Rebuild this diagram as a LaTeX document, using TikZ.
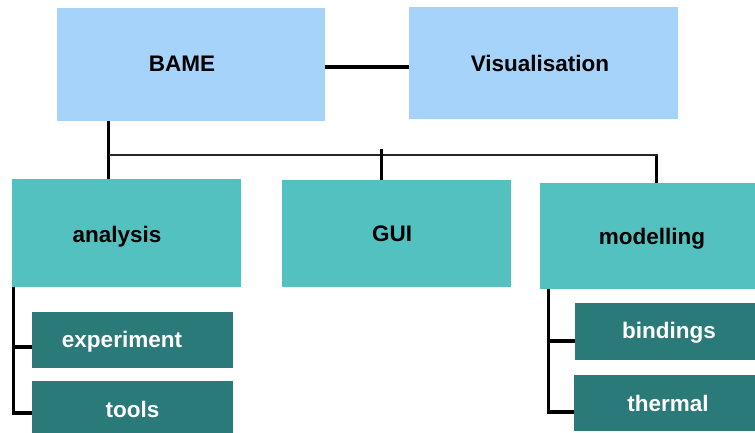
\documentclass[tikz,border=0pt]{standalone}
\usepackage{fontspec}
\setmainfont{Liberation Sans}
\usetikzlibrary{calc}
\definecolor{lightblue}{HTML}{A6D3FA}
\definecolor{tealmid}{HTML}{54C1C1}
\definecolor{tealdark}{HTML}{2A7A79}
\newcommand{\shiftedtext}[3]{\hspace*{#1pt}\hspace*{#1pt}\raisebox{#2pt}[\height][\depth]{#3}}
\tikzset{
  basebox/.style={rectangle, inner sep=0pt, font=\fontsize{22.5}{26}\selectfont\bfseries},
  topbox/.style={basebox, fill=lightblue, text=black},
  midbox/.style={basebox, fill=tealmid, text=black},
  subbox/.style={basebox, fill=tealdark, text=white},
  conn/.style={draw=black, line width=3.2pt},
  busline/.style={draw=black!85, line width=2.4pt}
}
\begin{document}
\begin{tikzpicture}[x=1pt,y=-1pt]
\useasboundingbox (0,0) rectangle (755,432);
\begin{scope}
\clip (0,0) rectangle (755,432);
\node[topbox, minimum width=268pt, minimum height=113pt] (bame) at (191,64.5) {\shiftedtext{-9}{1}{BAME}};
\node[topbox, minimum width=269pt, minimum height=112pt] (vis) at (543.5,63) {\shiftedtext{-3.5}{0}{Visualisation}};
\node[midbox, minimum width=229pt, minimum height=108pt] (analysis) at (126.5,233) {\shiftedtext{-9.5}{-4}{analysis}};
\node[midbox, minimum width=229pt, minimum height=107pt] (gui) at (396.5,233.5) {\shiftedtext{-4.5}{0}{GUI}};
\node[midbox, minimum width=229pt, minimum height=106pt] (modelling) at (654.5,236) {\shiftedtext{-2.5}{-3}{modelling}};
\node[subbox, minimum width=201pt, minimum height=56pt] (experiment) at (132.5,340) {\shiftedtext{-10.5}{-2}{experiment}};
\node[subbox, minimum width=201pt, minimum height=56pt] (tools) at (132.5,409) {\shiftedtext{0}{0}{tools}};
\node[subbox, minimum width=201pt, minimum height=57pt] (bindings) at (675.5,331.5) {\shiftedtext{-6.5}{-1.5}{bindings}};
\node[subbox, minimum width=201pt, minimum height=56pt] (thermal) at (674.5,403) {\shiftedtext{-6.5}{0}{thermal}};

\coordinate (linkstart) at ($(bame.east)+(0,2.5)$);
\draw[conn] (linkstart) -- (linkstart -| vis.west);
\draw[conn] ($(bame.south west)+(52,0)$) -- ($(analysis.north west)+(97,0)$);
\draw[busline] ($(analysis.north west)+(97,-24)$) -| ($(modelling.north west)+(117,0)$);
\draw[conn] ($(gui.north west)+(100,0)$) -- ++(0,-31);
\draw[conn] ($(modelling.north west)+(117,0)$) -- ++(0,-27);

\draw[conn] ($(analysis.south west)+(2,0)$) |- ($(experiment.west)+(0,7)$);
\draw[conn] ($(analysis.south west)+(2,0)$) |- ($(tools.west)+(0,4)$);
\draw[conn] ($(modelling.south west)+(9,0)$) |- ($(bindings.west)+(0,9.5)$);
\draw[conn] ($(modelling.south west)+(9,0)$) |- ($(thermal.west)+(0,9)$);
\end{scope}
\end{tikzpicture}
\end{document}
